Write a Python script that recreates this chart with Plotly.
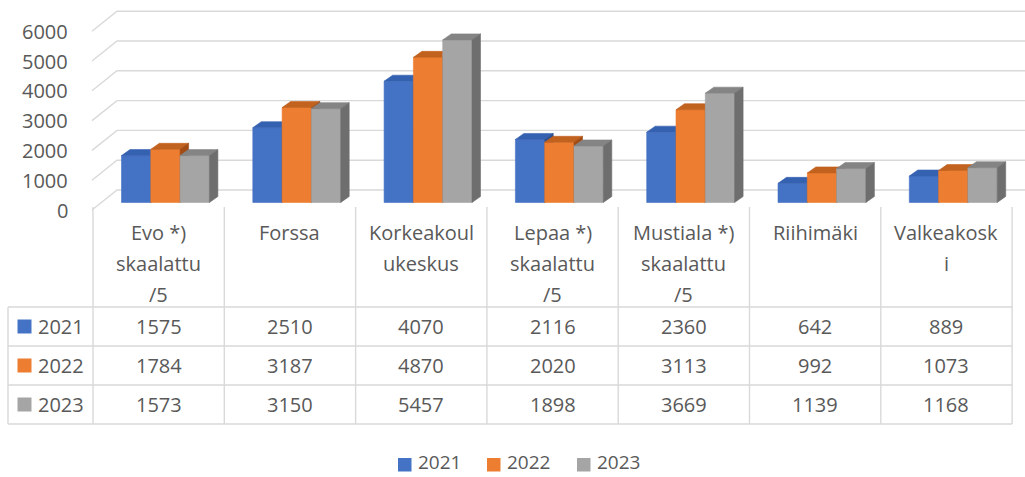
import plotly.graph_objects as go

# ---------------- data ----------------
categories = [
    "Evo *)<br>skaalattu<br>/5",
    "Forssa",
    "Korkeakoul<br>ukeskus",
    "Lepaa *)<br>skaalattu<br>/5",
    "Mustiala *)<br>skaalattu<br>/5",
    "Riihimäki",
    "Valkeakosk<br>i",
]
series_names = ["2021", "2022", "2023"]
values_2021 = [1575, 2510, 4070, 2116, 2360, 642, 889]
values_2022 = [1784, 3187, 4870, 2020, 3113, 992, 1073]
values_2023 = [1573, 3150, 5457, 1898, 3669, 1139, 1168]
y_ticks = [0, 1000, 2000, 3000, 4000, 5000, 6000]

series_values = [values_2021, values_2022, values_2023]

# ---------------- style ----------------
front_colors = ["#4472C4", "#ED7D31", "#A5A5A5"]
top_colors = ["#3561B1", "#C2621F", "#848484"]
side_colors = ["#2D4F8E", "#A24B12", "#6E6E6E"]
grid_color = "#D9D9D9"
text_color = "#595959"
FONT = "Open Sans"
FS = 20

W, H = 1025, 477
X0 = 93.0          # pixel of first category boundary
CAT_PX = 131.3     # pixel width of one category
VPX = 0.0298       # pixels per value unit
ZERO_PY = 210.0    # pixel row of value 0 on the front plane


def px2x(px):
    return (px - X0) / CAT_PX


def dpx2val(d):
    return d / VPX


def py2p(py):
    return 1 - py / H


x_range = [px2x(0), px2x(W)]
y_range = [-(H - ZERO_PY) / VPX, ZERO_PY / VPX]

wall_dv = dpx2val(20)
bar_base = dpx2val(ZERO_PY - 202.5)
bar_w = 29.3 / CAT_PX
bar_off = 28.5 / CAT_PX
depth_x = 8.5 / CAT_PX
depth_v = dpx2val(6)

fig = go.Figure()

# walls: gridlines on back wall and left wall
gx, gy = [], []
for v in y_ticks:
    gx += [px2x(92), px2x(117), px2x(W + 40), None]
    gy += [v, v + wall_dv, v + wall_dv, None]
fig.add_trace(go.Scatter(x=gx, y=gy, mode="lines",
                         line=dict(color=grid_color, width=1.4),
                         hoverinfo="skip", showlegend=False))

# 3D columns: front, top and side faces in painter's order
for k, vals in enumerate(series_values):
    fx, fy, tx, ty, sx, sy = [], [], [], [], [], []
    for i, v in enumerate(vals):
        L = i + bar_off + k * bar_w
        R = L + bar_w
        top = bar_base + v
        fx += [L, R, R, L, L, None]
        fy += [bar_base, bar_base, top, top, bar_base, None]
        tx += [L, R, R + depth_x, L + depth_x, L, None]
        ty += [top, top, top + depth_v, top + depth_v, top, None]
        sx += [R, R + depth_x, R + depth_x, R, R, None]
        sy += [bar_base, bar_base + depth_v, top + depth_v, top, bar_base, None]
    for xs, ys, col in ((fx, fy, front_colors[k]), (tx, ty, top_colors[k]), (sx, sy, side_colors[k])):
        fig.add_trace(go.Scatter(x=xs, y=ys, mode="lines", fill="toself",
                                 fillcolor=col, line=dict(color=col, width=0.6),
                                 name=series_names[k], hoverinfo="name",
                                 showlegend=False))

shapes = []
annotations = []
font = dict(family=FONT, size=FS, color=text_color)

# y tick labels
for v in y_ticks:
    annotations.append(dict(x=px2x(70), y=v, xref="x", yref="y", text=str(v),
                            showarrow=False, xanchor="right", yanchor="middle", font=font))

# data table grid
line = dict(color=grid_color, width=1.4)
for i in range(len(categories) + 1):
    shapes.append(dict(type="line", xref="x", yref="paper", x0=i, x1=i,
                       y0=py2p(207), y1=py2p(424), line=line))
shapes.append(dict(type="line", xref="x", yref="paper", x0=px2x(8), x1=px2x(8),
                   y0=py2p(307), y1=py2p(424), line=line))
row_lines = [307, 346, 385, 424]
for r in row_lines:
    shapes.append(dict(type="line", xref="x", yref="paper", x0=px2x(8), x1=len(categories),
                       y0=py2p(r), y1=py2p(r), line=line))

# category header labels (one annotation per wrapped line)
for i, c in enumerate(categories):
    for j, part in enumerate(c.split("<br>")):
        annotations.append(dict(x=i + 0.5, y=py2p(233 + j * 30.5), xref="x", yref="paper",
                                text=part, showarrow=False, xanchor="center",
                                yanchor="middle", font=font))

# table rows
for k, vals in enumerate(series_values):
    cy = (row_lines[k] + row_lines[k + 1]) / 2
    shapes.append(dict(type="rect", xref="x", yref="paper",
                       x0=px2x(17.5), x1=px2x(31.5), y0=py2p(cy - 7), y1=py2p(cy + 7),
                       fillcolor=front_colors[k], line=dict(width=0)))
    annotations.append(dict(x=px2x(36), y=py2p(cy), xref="x", yref="paper",
                            text=series_names[k], showarrow=False, xanchor="left",
                            yanchor="middle", font=font))
    for i, v in enumerate(vals):
        annotations.append(dict(x=i + 0.5, y=py2p(cy), xref="x", yref="paper",
                                text=str(v), showarrow=False, xanchor="center",
                                yanchor="middle", font=font))

# legend at the bottom
legend_font = dict(family=FONT, size=19, color=text_color)
legend_sq = [398, 487, 577]
for k, name in enumerate(series_names):
    sq = legend_sq[k]
    shapes.append(dict(type="rect", xref="x", yref="paper",
                       x0=px2x(sq), x1=px2x(sq + 13.5), y0=py2p(458), y1=py2p(471.5),
                       fillcolor=front_colors[k], line=dict(width=0)))
    annotations.append(dict(x=px2x(sq + 18), y=0.0, xref="x", yref="paper",
                            text=name, showarrow=False, xanchor="left",
                            yanchor="bottom", font=legend_font))

fig.update_layout(
    width=W, height=H,
    margin=dict(l=0, r=0, t=0, b=0),
    paper_bgcolor="white", plot_bgcolor="white",
    xaxis=dict(range=x_range, visible=False, fixedrange=True),
    yaxis=dict(range=y_range, visible=False, fixedrange=True),
    shapes=shapes, annotations=annotations,
    showlegend=False,
    font=font,
)

fig.write_html("out.html", config={"displayModeBar": False},
               post_script="document.body.style.margin='0';document.body.style.overflow='hidden';")
